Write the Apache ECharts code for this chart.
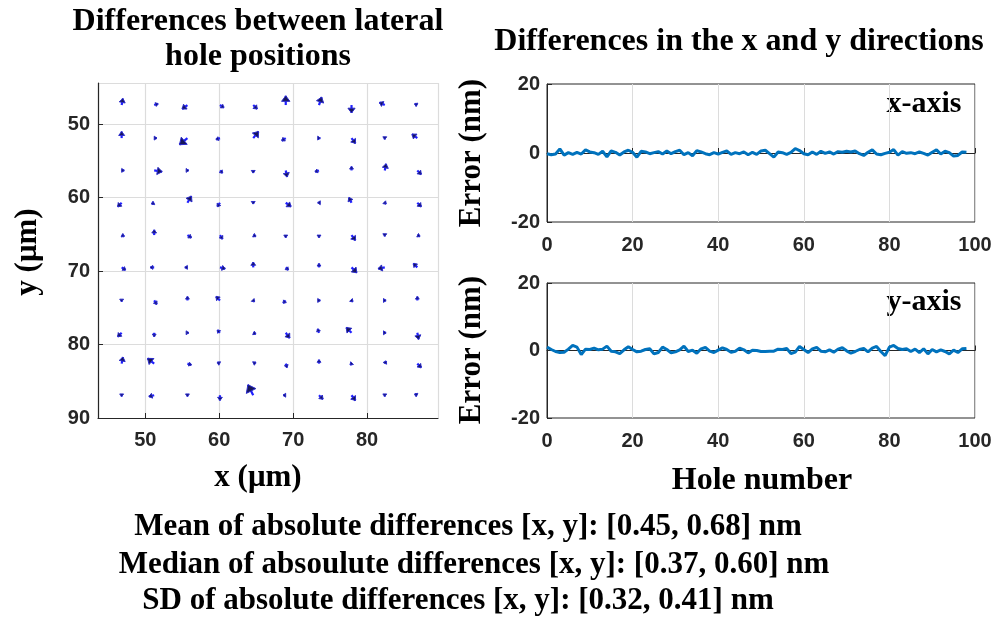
<!DOCTYPE html>
<html>
<head>
<meta charset="utf-8">
<script src="https://cdn.jsdelivr.net/npm/echarts@6/dist/echarts.min.js"></script>
<style>
  html, body { margin: 0; padding: 0; background: #fff; }
  #chart { width: 1000px; height: 621px; }
</style>
</head>
<body>
<div id="chart"></div>
<script>
// Hole centre positions (µm)
const holeX = [46.8, 51.2, 55.7, 60.1, 64.6, 69.0, 73.5, 77.9, 82.4, 86.8];
const holeY = [47.4, 51.9, 56.3, 60.7, 65.1, 69.5, 74.0, 78.4, 82.6, 86.9];

// Lateral differences (nm), row by row (top row first), x component
const diffU = [
  0.15, 0.45, -0.6, 0.45, 0.45, 0, 0.3, 0, -0.6, -0.3,
  0, 0.3, -0.9, -0.45, 0.6, -0.45, 0.15, 0.45, 0, -0.6,
  0.3, 0.9, 0.15, 0.3, 0, 0.15, -0.45, 0, 0.15, 0.45,
  -0.45, -0.3, 0.45, -0.3, 0, 0.6, -0.15, -0.3, 0.15, 0.45,
  0.3, 0, 0.45, 0.3, 0.3, 0, 0, 0.45, 0, 0.3,
  0.45, -0.45, -0.3, 0.6, 0, 0.3, 0, 0.6, -0.75, -0.45,
  0, 0.3, 0, -0.45, 0.15, -0.3, 0.15, 0.15, 0.15, 0,
  -0.45, 0, 0.15, -0.3, 0.3, 0.45, -0.15, -0.6, 0.15, 0.15,
  0.15, -0.75, 0.45, -0.3, 0.3, 0.15, 0, -0.15, 0.15, 0.45,
  0, -0.6, 0, 0, -0.6, -0.3, 0.45, 0.45, 0, -0.3
];
// y component
const diffV = [
  -0.75, -0.15, 0.45, 0.3, 0.45, -1.05, -0.9, 0.9, -0.3, -0.15,
  -0.75, 0, 0.75, 0.15, -0.75, 0.3, 0, 0.6, 0.15, -0.45,
  0, 0.15, 0, 0.3, 0.3, 0.75, 0.15, -0.45, -0.75, 0.45,
  0.45, 0.15, -0.75, 0.45, 0.15, 0.45, 0, -0.6, 0.15, 0.45,
  0.15, -0.6, 0.3, 0.45, 0.15, 0.3, 0.3, 0.6, 0.15, 0.15,
  0.3, 0, 0, 0.15, -0.6, 0.3, -0.45, 0.6, 0.15, -0.45,
  0.15, 0.45, -0.45, -0.45, 0.15, 0.3, 0, 0.15, 0, -0.45,
  0.45, 0.45, 0, -0.3, 0.15, 0.6, -0.45, -0.6, 0, 0.75,
  -0.75, -0.6, 0.15, -0.15, -0.15, 0.45, -0.45, 0.15, -0.3, 0.45,
  0.15, 0.15, 0.15, 0.6, -1.2, 0, 0.45, 0.6, 0.15, -0.15
];

// Per-hole error along x and y (nm)
const xError = [
  -0.2, -0.5, -0.3, 1.2, -0.6, 0.1, -0.4, 0.2, -0.3, 0.9,
  0.3, 0.1, -0.4, 0.5, -1.1, 0.6, 0.2, -0.6, 0.3, 0.8,
  0.2, -1.2, 0.5, 0.3, -0.2, 0.1, 0.4, -0.3, 0.6, -0.2,
  0.4, 0.8, -0.5, 0.1, -0.8, 0.7, 0.3, -0.2, -0.5, 0.1,
  -0.3, 0.2, 0.6, -0.4, 0.1, -0.2, 0.3, -0.5, 0.2, -0.4,
  0.6, 0.8, -0.2, -1.2, 0.3, 0.1, -0.4, 0.2, 1.3, 0.7,
  -0.2, -0.5, 0.3, -0.4, 0.5, -0.1, 0.3, -0.3, 0.4, 0.2,
  0.5, 0.3, 0.6, -0.2, -0.7, 0.2, 0.9, -0.3, -0.5, -0.1,
  0.2, 1.0, -0.6, 0.4, -0.1, 0.1, -0.2, 0.3, -0.1, -0.6,
  0.2, 0.9, -0.3, 0.5, 0.1, -0.9, -0.7, 0.3, 0.2
];
const yError = [
  1.0, 0.3, -0.3, -0.6, -0.5, 0.4, 1.5, 1.0, -1.2, 0.4,
  0.3, 0.7, 0.2, 0.4, 1.3, -0.2, -0.4, -0.9, 0.2, 1.1,
  0.3, -0.4, -0.2, 0.3, 0.5, -1.0, -0.6, 1.0, 0.3, -0.7,
  -0.4, 0.2, 1.3, -0.3, 0.1, -0.8, 0.5, 0.9, -0.2, -0.6,
  0.1, 0.8, 0.3, -0.5, -0.2, 0.7, 0.2, -0.7, 0.1, 0.0,
  -0.3, -0.3, -0.2, -0.2, 0.4, 0.3, 0.6, -0.9, -0.5, 1.2,
  0.3, -0.6, 0.5, 0.9, -0.2, -0.4, 0.2, -0.5, 0.4, 0.8,
  -0.1, -0.8, -0.3, 0.3, 0.6, -0.4, 0.7, 1.2, -0.3, -1.5,
  1.0, 1.5, 0.6, 0.3, 0.5, -0.3, 0.4, -0.6, 0.5, -1.0,
  0.3, -0.4, 0.2, -0.3, -1.0, 0.1, -0.6, 0.5, 0.6
];

const xTicks = [0, 20, 40, 60, 80, 100];
const errTicks = [-20, 0, 20];

const summaryLines = [
  'Mean of absolute differences [x, y]: [0.45, 0.68] nm',
  'Median of absoulute differences [x, y]: [0.37, 0.60] nm',
  'SD of absolute differences [x, y]: [0.32, 0.41] nm'
];

// arrow length on the map: µm drawn per nm of difference
const arrowScale = 1.2;

const SERIF = '"Liberation Serif", "Times New Roman", serif';
const SANS = '"Liberation Sans", Arial, sans-serif';
const AX = '#262626';
const GRIDC = '#dcdcdc';
const LINEC = '#0072BD';

const quiverData = [];
for (let r = 0; r < holeY.length; r++) {
  for (let c = 0; c < holeX.length; c++) {
    const k = r * holeX.length + c;
    quiverData.push([holeX[c], holeY[r], diffU[k], diffV[k]]);
  }
}
const xSeries = xError.map((v, i) => [i, v]);
const ySeries = yError.map((v, i) => [i, v]);

// quiver arrow: blue shaft from the hole, dark filled head at the tip
function renderArrow(params, api) {
  const x = api.value(0), y = api.value(1), u = api.value(2), v = api.value(3);
  const p0 = api.coord([x, y]);
  const p1 = api.coord([x + u * arrowScale, y + v * arrowScale]);
  const dx = p1[0] - p0[0], dy = p1[1] - p0[1];
  const L = Math.hypot(dx, dy) || 0.5;
  const ux = dx / L, uy = dy / L;
  const h = Math.max(2.6, L * 0.6);
  const w = h * 0.75;
  const bx = p1[0] - ux * h, by = p1[1] - uy * h;
  return {
    type: 'group',
    children: [
      { type: 'line', shape: { x1: p0[0], y1: p0[1], x2: p1[0], y2: p1[1] },
        style: { stroke: '#1f1fff', lineWidth: 2.2 } },
      { type: 'polygon',
        shape: { points: [[p1[0], p1[1]], [bx - uy * w, by + ux * w], [bx + uy * w, by - ux * w]] },
        style: { fill: '#16165a', stroke: '#2a2acc', lineWidth: 1 } }
    ]
  };
}

const tickLabel = { color: AX, fontFamily: SANS, fontWeight: 'bold', fontSize: 20 };

function errorXAxis(gridIndex) {
  return {
    type: 'value', gridIndex, min: xTicks[0], max: xTicks[xTicks.length - 1], interval: 20,
    axisLine: { show: true, lineStyle: { color: AX, width: 1 } },
    axisTick: { show: true, inside: true, length: 5, lineStyle: { color: AX } },
    axisLabel: Object.assign({ margin: 13 }, tickLabel),
    splitLine: { show: true, lineStyle: { color: GRIDC, width: 1 } }
  };
}
function errorYAxis(gridIndex) {
  return {
    type: 'value', gridIndex, min: errTicks[0], max: errTicks[errTicks.length - 1], interval: 20,
    axisLine: { show: true, lineStyle: { color: AX, width: 1 } },
    axisTick: { show: true, inside: true, length: 5, lineStyle: { color: AX } },
    axisLabel: Object.assign({ margin: 7 }, tickLabel),
    splitLine: { show: false }
  };
}

function label(text, x, y, size, rotation) {
  return {
    type: 'text', x, y, rotation: rotation || 0,
    style: { text, fill: '#000', font: 'bold ' + size + 'px ' + SERIF, align: 'center', verticalAlign: 'middle' }
  };
}

const option = {
  backgroundColor: '#fff',
  animation: false,
  grid: [
    { left: 98, top: 83, width: 340, height: 335 },
    { left: 547, top: 84, width: 428, height: 138, show: true, borderColor: AX, borderWidth: 1, backgroundColor: 'transparent' },
    { left: 547, top: 283, width: 428, height: 135, show: true, borderColor: AX, borderWidth: 1, backgroundColor: 'transparent' }
  ],
  xAxis: [
    {
      type: 'value', gridIndex: 0, min: 43.6, max: 89.6, splitNumber: 4,
      axisLine: { show: true, lineStyle: { color: AX, width: 1.2 } },
      axisTick: { show: true, inside: true, length: 5, lineStyle: { color: AX } },
      axisLabel: Object.assign({ margin: 12, showMinLabel: false, showMaxLabel: false }, tickLabel),
      splitLine: { show: true, lineStyle: { color: GRIDC, width: 1.2 } }
    },
    errorXAxis(1),
    errorXAxis(2)
  ],
  yAxis: [
    {
      type: 'value', gridIndex: 0, min: 44.4, max: 90, splitNumber: 4, inverse: true,
      axisLine: { show: true, lineStyle: { color: AX, width: 1.2 } },
      axisTick: { show: true, inside: true, length: 5, lineStyle: { color: AX } },
      axisLabel: Object.assign({ margin: 8, showMinLabel: false }, tickLabel),
      splitLine: { show: true, lineStyle: { color: GRIDC, width: 1.2 } }
    },
    errorYAxis(1),
    errorYAxis(2)
  ],
  series: [
    {
      type: 'custom', xAxisIndex: 0, yAxisIndex: 0,
      renderItem: renderArrow, data: quiverData, clip: false, silent: true
    },
    {
      type: 'line', xAxisIndex: 1, yAxisIndex: 1, data: xSeries,
      showSymbol: false, lineStyle: { color: LINEC, width: 3 }, silent: true
    },
    {
      type: 'line', xAxisIndex: 2, yAxisIndex: 2, data: ySeries,
      showSymbol: false, lineStyle: { color: LINEC, width: 3 }, silent: true
    }
  ],
  graphic: [
    label('Differences between lateral', 258, 22, 32),
    label('hole positions', 258, 57, 32),
    label('Differences in the x and y directions', 739, 42, 32),
    label('y (μm)', 28, 252, 31, Math.PI / 2),
    label('x (μm)', 258, 478, 31),
    label('Error (nm)', 472, 153, 31, Math.PI / 2),
    label('Error (nm)', 472, 350, 31, Math.PI / 2),
    label('Hole number', 762, 481, 32),
    label('x-axis', 924, 104, 30),
    label('y-axis', 924, 302, 30),
    label(summaryLines[0], 468, 527, 31),
    label(summaryLines[1], 474, 565, 31),
    label(summaryLines[2], 458, 601, 31)
  ]
};

const chart = echarts.init(document.getElementById('chart'), null, { renderer: 'canvas' });
chart.setOption(option);
</script>
</body>
</html>
